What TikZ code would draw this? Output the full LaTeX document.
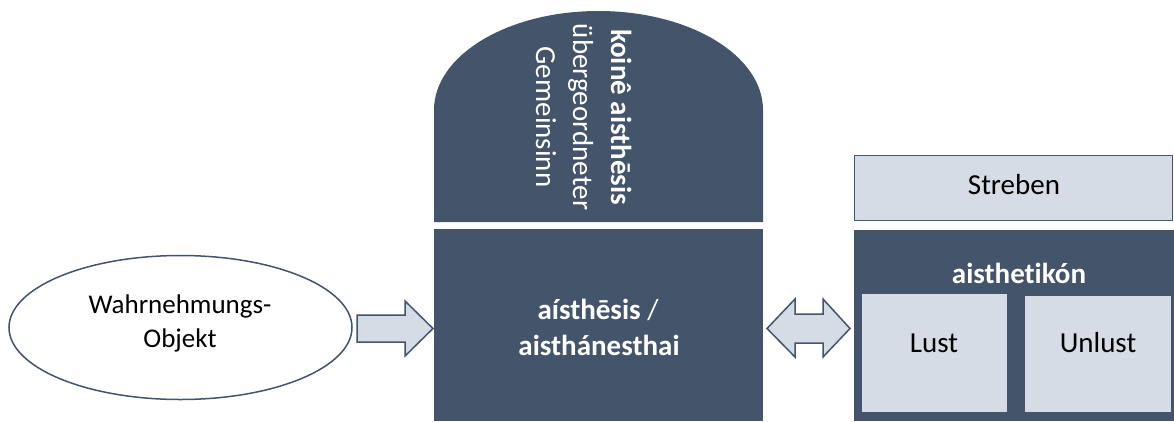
\documentclass[tikz,border=0pt]{standalone}
\usepackage{fontspec}
\setmainfont{Carlito}[Ligatures=NoCommon]
\usetikzlibrary{shapes.geometric}
\definecolor{slate}{HTML}{44546A}
\definecolor{mist}{HTML}{D6DCE5}
\tikzset{
  darkbox/.style={rectangle, fill=slate, draw=none, inner sep=0pt},
  lightbox/.style={rectangle, fill=mist, draw=slate, line width=1.5pt, inner sep=0pt},
  innerbox/.style={rectangle, fill=mist, draw=none, inner sep=0pt},
  blockarrow/.style={fill=mist, draw=slate, line width=1.5pt, line join=miter},
  bigtext/.style={font=\fontsize{29}{36}\selectfont, inner sep=0pt},
  ovaltext/.style={font=\fontsize{27}{34}\selectfont, inner sep=0pt, text=black},
}
\begin{document}
\begin{tikzpicture}[x=1pt, y=-1pt]
  \useasboundingbox (0,0) rectangle (1174,421);

  % dome on top of the central block
  \path[fill=slate] (434,222) -- (434,110)
    arc[start angle=180, end angle=0, x radius=164.5pt, y radius=99pt]
    -- (763,222) -- cycle;
  \node[bigtext, text=white, rotate=-90, anchor=base] (koine) at (611,117) {\textbf{koinê aisthēsis}};
  \node[bigtext, text=white, rotate=-90, anchor=base] (ueber) at (573,117) {übergeordneter};
  \node[bigtext, text=white, rotate=-90, anchor=base] (gemein) at (536,117) {Gemeinsinn};

  % central block
  \node[darkbox, minimum width=329pt, minimum height=192pt] (core) at (598.5,325) {};
  \node[bigtext, text=white, anchor=base] (coreA) at (598,319) {\textbf{aísthēsis} /};
  \node[bigtext, text=white, anchor=base] (coreB) at (599,355) {\textbf{aisthánesthai}};

  % perceived object
  \node[ellipse, draw=slate, line width=1.5pt, fill=white, minimum width=343pt,
        minimum height=144pt, inner sep=0pt] (obj) at (180.5,327.5) {};
  \node[ovaltext, anchor=base] (objA) at (180,313) {Wahrnehmungs-};
  \node[ovaltext, anchor=base] (objB) at (180,347) {Objekt};

  % right column
  \node[lightbox, minimum width=318pt, minimum height=65pt] (streben) at (1013.5,188) {};
  \node[bigtext, anchor=base] (strebenT) at (1014,194) {Streben};
  \node[darkbox, minimum width=320pt, minimum height=191pt] (ais) at (1014,325.5) {};
  \node[bigtext, text=white, anchor=base] (aisT) at (1019,283) {\textbf{aisthetikón}};
  \node[innerbox, minimum width=145pt, minimum height=118pt] (lust) at (934.5,353) {};
  \node[bigtext, anchor=base] (lustT) at (934,352) {Lust};
  \node[innerbox, minimum width=146pt, minimum height=116pt] (unlust) at (1098,354) {};
  \node[bigtext, anchor=base] (unlustT) at (1098,352) {Unlust};

  % block arrows
  \draw[blockarrow] (357,315) -- (405,315) -- (405,301) -- (433,328.5)
    -- (405,356) -- (405,342) -- (357,342) -- cycle;
  \draw[blockarrow] (767,328.5) -- (795,299) -- (795,314) -- (823,314)
    -- (823,299) -- (850,328.5) -- (823,357) -- (823,343) -- (795,343)
    -- (795,357) -- cycle;
\end{tikzpicture}
\end{document}
